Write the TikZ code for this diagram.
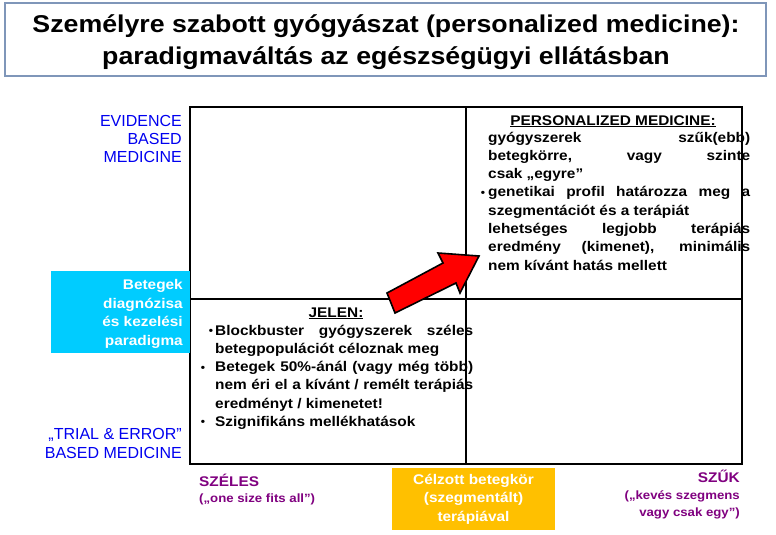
\documentclass[tikz,border=0pt]{standalone}
\usepackage{fontspec}
\setmainfont{Liberation Sans}
\newfontfamily\widefont{Liberation Sans}[FakeStretch=1.1]
\definecolor{lblblue}{RGB}{0,0,240}
\definecolor{lblpurple}{RGB}{128,0,128}
\definecolor{boxcyan}{RGB}{0,204,255}
\definecolor{boxorange}{RGB}{255,192,0}
\definecolor{arrowred}{RGB}{255,0,0}
\definecolor{titleborder}{RGB}{127,150,185}
\tikzset{
  titlebox/.style={draw=titleborder, line width=1.2pt, fill=white},
  gridline/.style={draw=black, line width=1.2pt},
  bodytext/.style={inner sep=0pt, font={\widefont\bfseries\fontsize{14}{18.3}\selectfont}},
  bulletmark/.style={inner sep=0pt, font={\widefont\bfseries\fontsize{11}{13}\selectfont}},
  bluelabel/.style={inner sep=0pt, text=lblblue, align=right, font={\fontsize{16}{18.3}\selectfont}},
  whitelabel/.style={inner sep=0pt, text=white, font={\widefont\bfseries\fontsize{14}{18.5}\selectfont}},
  purplebig/.style={inner sep=0pt, text=lblpurple, font={\widefont\bfseries\fontsize{14}{17}\selectfont}},
  purplesmall/.style={inner sep=0pt, text=lblpurple, font={\widefont\bfseries\fontsize{12}{17}\selectfont}},
  bigarrow/.style={fill=arrowred, draw=black, line width=1.6pt, line join=miter}
}
\begin{document}
\begin{tikzpicture}[x=1pt,y=-1pt]
\useasboundingbox (0,0) rectangle (776,535);
\fill[white] (0,0) rectangle (776,535);

% title
\draw[titlebox] (5,3) rectangle (766,76);
\node[inner sep=0pt, anchor=base, font={\widefont\bfseries\fontsize{24.3}{30}\selectfont}] (title1) at (386,33) {Személyre szabott gyógyászat (personalized medicine):};
\node[inner sep=0pt, anchor=base, font={\widefont\bfseries\fontsize{24.3}{30}\selectfont}] (title2) at (386,64) {paradigmaváltás az egészségügyi ellátásban};

% grid
\draw[gridline] (190,107) rectangle (742,464);
\draw[gridline] (466,107) -- (466,464);
\draw[gridline] (190,299) -- (742,299);

% cyan box
\fill[boxcyan] (51,271) rectangle (190,353);
\node[whitelabel, anchor=base east, align=right] (paradigm) at (183,345) {Betegek\\diagnózisa\\és kezelési\\paradigma};

% blue labels
\node[bluelabel, anchor=base east] (ebm) at (182,162.6) {EVIDENCE\\BASED\\MEDICINE};
\node[bluelabel, anchor=base east] (tebm) at (182,458) {„TRIAL \& ERROR”\\BASED MEDICINE};

% personalized medicine
\node[bodytext, anchor=base] (pmhead) at (613,125) {\underline{PERSONALIZED MEDICINE:}};
\node[bodytext, anchor=base west, align=left] (pmtext) at (488,270.1) {%
\makebox[262pt][s]{gyógyszerek szűk(ebb)}\\
\makebox[262pt][s]{betegkörre, vagy szinte}\\
csak „egyre”\\
\makebox[262pt][s]{genetikai profil határozza meg a}\\
szegmentációt és a terápiát\\
\makebox[262pt][s]{lehetséges legjobb terápiás}\\
\makebox[262pt][s]{eredmény (kimenet), minimális}\\
nem kívánt hatás mellett};
\node[bulletmark, anchor=base] (pmbullet) at (483,196) {•};

% jelen
\node[bodytext, anchor=base] (jelenhead) at (336,317) {\underline{JELEN:}};
\node[bodytext, anchor=base west, align=left] (jelentext) at (215,426.5) {%
\makebox[258pt][s]{Blockbuster gyógyszerek széles}\\
betegpopulációt céloznak meg\\
\makebox[258pt][s]{Betegek 50\%-ánál (vagy még több)}\\
\makebox[258pt][s]{nem éri el a kívánt / remélt terápiás}\\
eredményt / kimenetet!\\
Szignifikáns mellékhatások};
\node[bulletmark, anchor=base] (jb1) at (211,334) {•};
\node[bulletmark, anchor=base] (jb2) at (203,371) {•};
\node[bulletmark, anchor=base] (jb3) at (203,425) {•};

% arrow
\draw[bigarrow] (387,293) -- (443,263) -- (438,253) -- (479,256) -- (460,293) -- (456,283) -- (395,313) -- cycle;

% bottom labels
\node[purplebig, anchor=base west] (szeles) at (199,486) {SZÉLES};
\node[purplesmall, anchor=base west] (szelessub) at (199,502) {(„one size fits all”)};
\node[purplebig, anchor=base east] (szuk) at (740,482) {SZŰK};
\node[purplesmall, anchor=base east, align=right] (szuksub) at (740,516) {(„kevés szegmens\\vagy csak egy”)};

\fill[boxorange] (392,468) rectangle (555,530);
\node[whitelabel, anchor=base, align=center] (celzott) at (473.5,521) {Célzott betegkör\\(szegmentált)\\terápiával};
\end{tikzpicture}
\end{document}
